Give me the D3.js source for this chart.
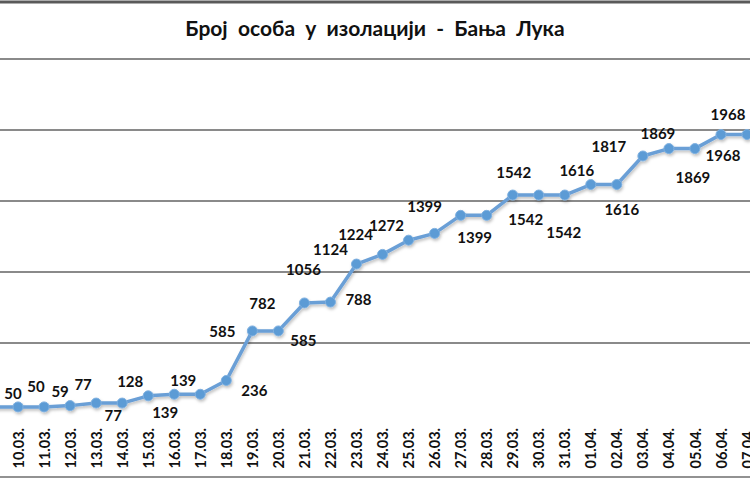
<!DOCTYPE html>
<html>
<head>
<meta charset="utf-8">
<script src="https://cdn.jsdelivr.net/npm/d3@7"></script>
<style>
  body { margin: 0; background: #fff; }
  svg { display: block; font-family: Lato, "Open Sans", sans-serif; }
</style>
</head>
<body>
<svg id="chart"></svg>
<script>
const title = "Број  особа  у  изолацији  -  Бања  Лука";

const dates = ["09.03.", "10.03.", "11.03.", "12.03.", "13.03.", "14.03.", "15.03.", "16.03.",
    "17.03.", "18.03.", "19.03.", "20.03.", "21.03.", "22.03.", "23.03.", "24.03.", "25.03.",
    "26.03.", "27.03.", "28.03.", "29.03.", "30.03.", "31.03.", "01.04.", "02.04.", "03.04.",
    "04.04.", "05.04.", "06.04.", "07.04."];

const isolated = [50, 50, 50, 59, 77, 77, 128, 139, 139, 236, 585, 585, 782, 788, 1056, 1124,
    1224, 1272, 1399, 1399, 1542, 1542, 1542, 1616, 1616, 1817, 1869, 1869, 1968, 1968];

const gridTicks = [500, 1000, 1500, 2000, 2500];

// where the data labels were dragged to, relative to their point (px)
const labelShift = [[-5, -14], [-5, -14], [-8, -21], [-10, -15], [-13, -19], [-9, 12], [-18, -15],
    [-9, 18], [-17, -14], [28, 10], [-30, 0], [25, 9], [-42, 0], [28, -3], [-53, 5], [-52, -5],
    [-53, -6], [-48, -8], [-36, -9], [-12, 22], [1, -23], [-13, 24], [-1, 37], [-14, -15],
    [5, 24], [-34, -10], [-11, -16], [-2, 28], [2, 20], [-19, -21]];

const width = 750;
const height = 500;

const svg = d3.select("#chart")
    .attr("width", width)
    .attr("height", height);

const x = d3.scalePoint()
    .domain(dates)
    .range([-8, 747]);

const y = d3.scaleLinear()
    .domain([0, 2500])
    .range([414, 59]);

// title band
svg.append("line")
    .attr("x1", 0).attr("x2", width)
    .attr("y1", 2).attr("y2", 2)
    .attr("stroke", "#5a5a5a").attr("stroke-width", 3);

svg.append("text")
    .attr("x", width / 2)
    .attr("y", 27)
    .attr("text-anchor", "middle")
    .attr("dominant-baseline", "central")
    .style("font-size", "21px")
    .style("font-weight", "bold")
    .style("white-space", "pre")
    .attr("fill", "#111")
    .text(title);

// gridlines
svg.append("g")
    .selectAll("line")
    .data(gridTicks)
    .join("line")
    .attr("x1", 0).attr("x2", width)
    .attr("y1", d => y(d)).attr("y2", d => y(d))
    .attr("stroke", "#8a8a8a")
    .attr("stroke-width", 2);

// bottom frame line
svg.append("line")
    .attr("x1", 0).attr("x2", width)
    .attr("y1", 477).attr("y2", 477)
    .attr("stroke", "#6e6e6e").attr("stroke-width", 1.5);

// date labels
const xAxis = svg.append("g")
    .attr("transform", "translate(0,428)")
    .call(d3.axisBottom(x).tickSize(0).tickPadding(0));
xAxis.select(".domain").remove();
xAxis.selectAll("text")
    .attr("transform", "rotate(-90)")
    .attr("x", 0)
    .attr("y", 0)
    .attr("dy", "0.35em")
    .attr("text-anchor", "end")
    .attr("fill", "#111")
    .style("font-family", "Lato, sans-serif")
    .style("font-size", "14.5px")
    .style("font-weight", "bold");

const defs = svg.append("defs");
defs.append("filter")
    .attr("id", "shadow")
    .attr("x", "-10%").attr("y", "-10%")
    .attr("width", "120%").attr("height", "130%")
    .append("feDropShadow")
    .attr("dx", 1).attr("dy", 2)
    .attr("stdDeviation", 1.5)
    .attr("flood-color", "#000")
    .attr("flood-opacity", 0.25);

const series = dates.map((d, i) => ({ date: d, value: isolated[i], shift: labelShift[i] }));

const line = d3.line()
    .x(d => x(d.date))
    .y(d => y(d.value));

const plot = svg.append("g").attr("filter", "url(#shadow)");

plot.append("path")
    .datum(series)
    .attr("d", line)
    .attr("fill", "none")
    .attr("stroke", "#6a9fd6")
    .attr("stroke-width", 3.5)
    .attr("stroke-linejoin", "round");

plot.selectAll("circle")
    .data(series)
    .join("circle")
    .attr("cx", d => x(d.date))
    .attr("cy", d => y(d.value))
    .attr("r", 5)
    .attr("fill", "#5b9bd5")
    .attr("stroke", "#7fb0e0")
    .attr("stroke-width", 1);

svg.append("g")
    .selectAll("text")
    .data(series)
    .join("text")
    .attr("x", d => x(d.date) + d.shift[0])
    .attr("y", d => y(d.value) + d.shift[1])
    .attr("text-anchor", "middle")
    .attr("dominant-baseline", "central")
    .attr("fill", "#111")
    .style("font-size", "15px")
    .style("font-weight", "bold")
    .text(d => d.value);
</script>
</body>
</html>
